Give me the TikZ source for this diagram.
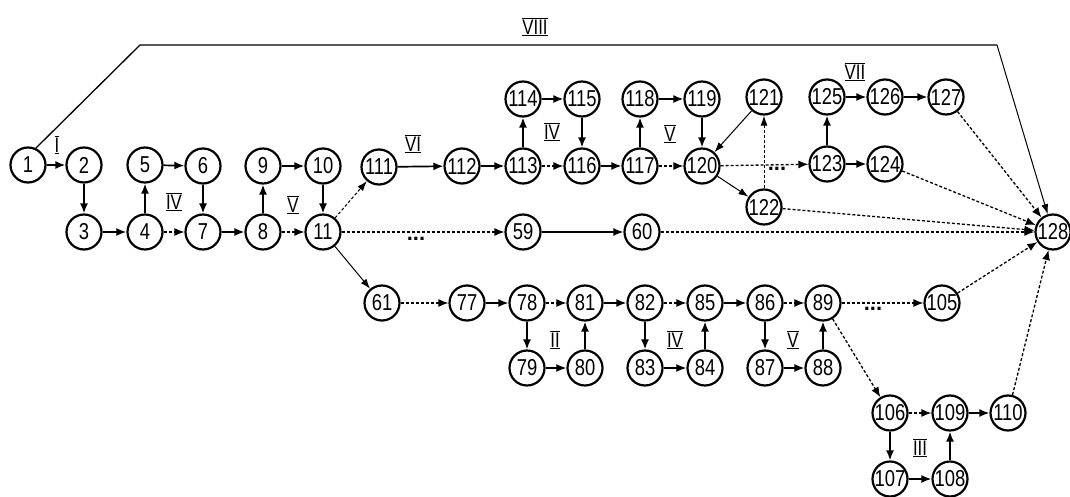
\documentclass[tikz,border=0pt]{standalone}
\usepackage{fontspec}
\setmainfont{Liberation Sans}
\newfontfamily\nfont[FakeStretch=0.8]{Liberation Sans}
\usetikzlibrary{arrows.meta}
\tikzset{
 nd/.style={circle,draw,line width=2.2pt,minimum size=35pt,inner sep=0pt,font=\nfont\fontsize{23}{23}\selectfont},
 ar/.style={-{Latex[length=10pt,width=8pt]},line width=1.7pt},
 da/.style={-{Latex[length=10pt,width=8pt]},line width=1.3pt,dash pattern=on 3pt off 2pt},
 th/.style={-{Latex[length=10pt,width=7pt]},line width=1pt},
 thd/.style={-{Latex[length=10pt,width=7pt]},line width=1pt,dash pattern=on 3pt off 2pt},
 lab/.style={font=\nfont\fontsize{21}{21}\selectfont,inner sep=0pt},
 dts/.style={font=\bfseries\fontsize{22}{22}\selectfont,inner sep=0pt}
}
\newcommand\rnum[1]{$\overline{\underline{\hbox{#1}}}$}
\begin{document}
\begin{tikzpicture}[x=1pt,y=-1pt]
\useasboundingbox[fill=white] (0,0) rectangle (1070,497);
% left block
\node[nd] (n1) at (28,165) {1};
\node[nd] (n2) at (84,165) {2};
\node[nd] (n3) at (84,232) {3};
\node[nd] (n4) at (145,232) {4};
\node[nd] (n5) at (145,165) {5};
\node[nd] (n6) at (203,166) {6};
\node[nd] (n7) at (203,232) {7};
\node[nd] (n8) at (263,232) {8};
\node[nd] (n9) at (263,166) {9};
\node[nd] (n10) at (323,166) {10};
\node[nd] (n11) at (323,232) {11};
% upper branch
\node[nd] (n111) at (379,167) {111};
\node[nd] (n112) at (462,166) {112};
\node[nd] (n113) at (523,166) {113};
\node[nd] (n114) at (523,99) {114};
\node[nd] (n115) at (582,99) {115};
\node[nd] (n116) at (582,166) {116};
\node[nd] (n117) at (640,166) {117};
\node[nd] (n118) at (640,99) {118};
\node[nd] (n119) at (702,99) {119};
\node[nd] (n120) at (702,166) {120};
\node[nd] (n121) at (764,97) {121};
\node[nd] (n122) at (764,207) {122};
\node[nd] (n123) at (827,164) {123};
\node[nd] (n124) at (885,164) {124};
\node[nd] (n125) at (827,97) {125};
\node[nd] (n126) at (885,97) {126};
\node[nd] (n127) at (946,97) {127};
% middle
\node[nd] (n59) at (523,232) {59};
\node[nd] (n60) at (642,232) {60};
\node[nd] (n128) at (1053,232) {128};
% lower branch
\node[nd] (n61) at (382,303) {61};
\node[nd] (n77) at (467,303) {77};
\node[nd] (n78) at (527,303) {78};
\node[nd] (n79) at (527,368) {79};
\node[nd] (n80) at (585,368) {80};
\node[nd] (n81) at (585,303) {81};
\node[nd] (n82) at (645,303) {82};
\node[nd] (n83) at (645,368) {83};
\node[nd] (n84) at (705,368) {84};
\node[nd] (n85) at (705,303) {85};
\node[nd] (n86) at (765,303) {86};
\node[nd] (n87) at (765,368) {87};
\node[nd] (n88) at (823,368) {88};
\node[nd] (n89) at (823,303) {89};
\node[nd] (n105) at (942,303) {105};
\node[nd] (n106) at (890,413) {106};
\node[nd] (n107) at (890,479) {107};
\node[nd] (n108) at (950,479) {108};
\node[nd] (n109) at (950,413) {109};
\node[nd] (n110) at (1008,413) {110};
% top line
\coordinate (tl) at (140,45);
\coordinate (tr) at (997,45);
\draw[line width=1.3pt] (n1.65) -- (tl) -- (tr);
\draw[th] (tr) -- (n128);
% left block edges
\draw[ar] (n1) -- (n2);
\draw[ar] (n2) -- (n3);
\draw[ar] (n3) -- (n4);
\draw[ar] (n4) -- (n5);
\draw[ar] (n5) -- (n6);
\draw[ar] (n6) -- (n7);
\draw[da] (n4) -- (n7);
\draw[ar] (n7) -- (n8);
\draw[ar] (n8) -- (n9);
\draw[ar] (n9) -- (n10);
\draw[ar] (n10) -- (n11);
\draw[da] (n8) -- (n11);
\draw[thd] (n11) -- (n111);
\draw[da] (n11) -- (n59);
\draw[th] (n11) -- (n61);
% upper branch edges
\draw[ar] (n111) -- (n112);
\draw[ar] (n112) -- (n113);
\draw[ar] (n113) -- (n114);
\draw[ar] (n114) -- (n115);
\draw[ar] (n115) -- (n116);
\draw[da] (n113) -- (n116);
\draw[ar] (n116) -- (n117);
\draw[ar] (n117) -- (n118);
\draw[ar] (n118) -- (n119);
\draw[ar] (n119) -- (n120);
\draw[da] (n117) -- (n120);
\draw[th] (n121) -- (n120);
\draw[th] (n120) -- (n122);
\draw[thd] (n122) -- (n121);
\draw[da] (n120) -- (n123);
\draw[ar] (n123) -- (n125);
\draw[ar] (n123) -- (n124);
\draw[ar] (n125) -- (n126);
\draw[ar] (n126) -- (n127);
% middle
\draw[ar] (n59) -- (n60);
\draw[da] (n60) -- (n128);
\draw[da] (n127) -- (n128);
\draw[da] (n124) -- (n128);
\draw[da] (n122) -- (n128);
\draw[da] (n105) -- (n128);
\draw[da] (n110) -- (n128);
% lower branch edges
\draw[da] (n61) -- (n77);
\draw[ar] (n77) -- (n78);
\draw[da] (n78) -- (n81);
\draw[ar] (n78) -- (n79);
\draw[ar] (n79) -- (n80);
\draw[ar] (n80) -- (n81);
\draw[ar] (n81) -- (n82);
\draw[da] (n82) -- (n85);
\draw[ar] (n82) -- (n83);
\draw[ar] (n83) -- (n84);
\draw[ar] (n84) -- (n85);
\draw[ar] (n85) -- (n86);
\draw[da] (n86) -- (n89);
\draw[ar] (n86) -- (n87);
\draw[ar] (n87) -- (n88);
\draw[ar] (n88) -- (n89);
\draw[da] (n89) -- (n105);
\draw[da] (n89) -- (n106);
\draw[da] (n106) -- (n109);
\draw[ar] (n106) -- (n107);
\draw[ar] (n107) -- (n108);
\draw[ar] (n108) -- (n109);
\draw[ar] (n109) -- (n110);
% labels
\node[lab] (lI) at (57,145) {\rnum{I}};
\node[lab] (lIVa) at (174,202) {\rnum{IV}};
\node[lab] (lVa) at (293,205) {\rnum{V}};
\node[lab] (lVI) at (413,144) {\rnum{VI}};
\node[lab] (lIVb) at (552,132) {\rnum{IV}};
\node[lab] (lVb) at (670,134) {\rnum{V}};
\node[lab] (lVII) at (855,72) {\rnum{VII}};
\node[lab] (lVIII) at (535,27) {\rnum{VIII}};
\node[lab] (lII) at (555,340) {\rnum{II}};
\node[lab] (lIVc) at (675,340) {\rnum{IV}};
\node[lab] (lVc) at (793,340) {\rnum{V}};
\node[lab] (lIII) at (920,448) {\rnum{III}};
\node[dts] (d1) at (416,239) {...};
\node[dts] (d2) at (777,169) {...};
\node[dts] (d3) at (873,309) {...};
\end{tikzpicture}
\end{document}
